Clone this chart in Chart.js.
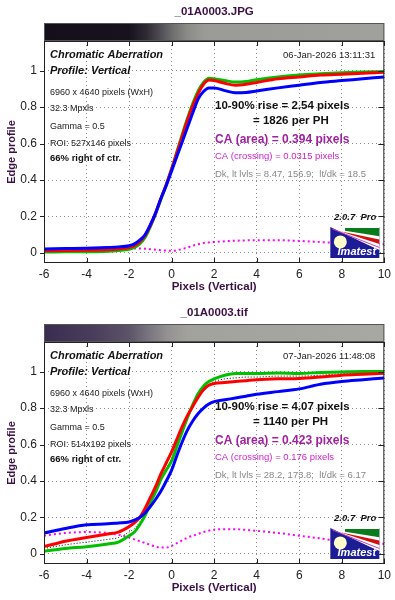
<!DOCTYPE html>
<html>
<head>
<meta charset="utf-8">
<script src="https://cdn.jsdelivr.net/npm/chart.js@4.4.0/dist/chart.umd.min.js"></script>
<style>
  body { margin: 0; background: #fff; }
  canvas { display: block; }
</style>
</head>
<body>
<canvas id="grafico1" width="395" height="300"></canvas>
<canvas id="grafico2" width="395" height="300" style="margin-top:1px"></canvas>
<script>
// eixo x comum (pixels) e ticks
const xVals = [-6, -5, -4, -3, -2.5, -2, -1.75, -1.5, -1.25, -1, -0.75, -0.5, -0.25, 0, 0.25, 0.5, 0.75, 1, 1.25, 1.5, 1.75, 2, 2.5, 3, 3.5, 4, 5, 6, 7, 8, 9, 10];
const xTicks = [-6, -4, -2, 0, 2, 4, 6, 8, 10];
const yTicks = [0, 0.2, 0.4, 0.6, 0.8, 1];
const yLabels = ['0', '0.2', '0.4', '0.6', '0.8', '1'];

// _01A0003.JPG
const jpgBlue = [0.022, 0.024, 0.026, 0.03, 0.033, 0.04, 0.05, 0.07, 0.1, 0.155, 0.22, 0.3, 0.37, 0.45, 0.53, 0.61, 0.69, 0.77, 0.845, 0.885, 0.905, 0.905, 0.89, 0.878, 0.88, 0.888, 0.905, 0.92, 0.935, 0.945, 0.955, 0.965];
const jpgRed = [0.012, 0.013, 0.015, 0.018, 0.022, 0.03, 0.04, 0.06, 0.095, 0.15, 0.22, 0.3, 0.375, 0.46, 0.55, 0.64, 0.73, 0.81, 0.875, 0.925, 0.948, 0.945, 0.93, 0.92, 0.925, 0.935, 0.955, 0.965, 0.975, 0.98, 0.985, 0.99];
const jpgGreen = [0.005, 0.006, 0.007, 0.01, 0.014, 0.02, 0.03, 0.05, 0.085, 0.145, 0.215, 0.295, 0.375, 0.46, 0.555, 0.65, 0.74, 0.82, 0.89, 0.935, 0.958, 0.955, 0.945, 0.937, 0.94, 0.95, 0.965, 0.975, 0.982, 0.988, 0.992, 0.995];
const jpgMagenta = [0.015, 0.015, 0.016, 0.018, 0.02, 0.025, 0.025, 0.024, 0.023, 0.02, 0.018, 0.015, 0.013, 0.012, 0.015, 0.022, 0.03, 0.04, 0.048, 0.055, 0.058, 0.06, 0.064, 0.067, 0.069, 0.07, 0.07, 0.066, 0.06, 0.054, 0.05, 0.047];

// _01A0003.tif
const tifBlue = [0.115, 0.14, 0.16, 0.165, 0.17, 0.175, 0.185, 0.2, 0.225, 0.26, 0.3, 0.345, 0.4, 0.46, 0.54, 0.615, 0.68, 0.73, 0.77, 0.8, 0.822, 0.835, 0.845, 0.855, 0.865, 0.875, 0.89, 0.905, 0.93, 0.945, 0.955, 0.965];
const tifRed = [0.04, 0.07, 0.09, 0.11, 0.12, 0.15, 0.17, 0.2, 0.25, 0.31, 0.37, 0.44, 0.5, 0.56, 0.63, 0.7, 0.76, 0.81, 0.86, 0.9, 0.925, 0.935, 0.94, 0.945, 0.95, 0.955, 0.96, 0.962, 0.97, 0.98, 0.985, 0.99];
const tifGreen = [0.015, 0.03, 0.04, 0.055, 0.065, 0.1, 0.12, 0.16, 0.21, 0.28, 0.34, 0.41, 0.46, 0.51, 0.59, 0.67, 0.75, 0.82, 0.88, 0.92, 0.945, 0.96, 0.98, 0.99, 0.99, 0.99, 0.992, 0.99, 0.995, 0.998, 1.0, 1.0];
const tifBlack = [0.03, 0.05, 0.065, 0.08, 0.09, 0.12, 0.14, 0.175, 0.225, 0.29, 0.35, 0.42, 0.47, 0.525, 0.6, 0.68, 0.75, 0.81, 0.865, 0.905, 0.93, 0.945, 0.96, 0.965, 0.97, 0.97, 0.975, 0.975, 0.98, 0.988, 0.99, 0.995];
const tifMagenta = [0.1, 0.115, 0.12, 0.115, 0.105, 0.09, 0.08, 0.07, 0.06, 0.05, 0.04, 0.035, 0.035, 0.045, 0.06, 0.075, 0.09, 0.1, 0.11, 0.12, 0.128, 0.133, 0.136, 0.136, 0.132, 0.127, 0.115, 0.1, 0.085, 0.068, 0.06, 0.055];

// textos
const jpgTexts = {
    titulo: '_01A0003.JPG',
    data: '06-Jan-2026 13:11:31',
    info: ['6960 x 4640 pixels (WxH)', '32.3 Mpxls', 'Gamma = 0.5', 'ROI: 527x146 pixels'],
    rise: ['10-90% rise = 2.54 pixels', '= 1826 per PH'],
    caArea: 'CA (area) = 0.394 pixels',
    caCross: 'CA (crossing) = 0.0315 pixels',
    dk: 'Dk, lt lvls = 8.47, 156.9;  lt/dk = 18.5'
};
const tifTexts = {
    titulo: '_01A0003.tif',
    data: '07-Jan-2026 11:48:08',
    info: ['6960 x 4640 pixels (WxH)', '32.3 Mpxls', 'Gamma = 0.5', 'ROI: 514x192 pixels'],
    rise: ['10-90% rise = 4.07 pixels', '= 1140 per PH'],
    caArea: 'CA (area) = 0.423 pixels',
    caCross: 'CA (crossing) = 0.176 pixels',
    dk: 'Dk, lt lvls = 28.2, 173.8;  lt/dk = 6.17'
};

const FONT = 'Liberation Sans, Arial, sans-serif';
const ROXO = '#3c0f46';

function pontos(arr) {
    return xVals.map((x, i) => ({ x: x, y: arr[i] }));
}

function linha(arr, cor, largura, dash) {
    return {
        data: pontos(arr),
        borderColor: cor,
        borderWidth: largura,
        borderDash: dash || [],
        pointRadius: 0,
        fill: false,
        cubicInterpolationMode: 'monotone'
    };
}

function txt(ctx, s, x, y, font, cor, align) {
    ctx.font = font;
    ctx.fillStyle = cor;
    ctx.textAlign = align || 'left';
    ctx.textBaseline = 'middle';
    ctx.fillText(s, x, y);
}

function desenharLogo(ctx, x, y, w, h) {
    ctx.save();
    ctx.fillStyle = '#1c1c96';
    ctx.fillRect(x, y, w, h);
    // parte branca superior
    ctx.fillStyle = '#ffffff';
    ctx.beginPath();
    ctx.moveTo(x, y); ctx.lineTo(x + w, y); ctx.lineTo(x + w, y + h * 0.75); ctx.closePath();
    ctx.fill();
    // faixa verde
    ctx.fillStyle = '#0a7a1a';
    ctx.beginPath();
    ctx.moveTo(x + w * 0.3, y + 1); ctx.lineTo(x + w, y + 1); ctx.lineTo(x + w, y + h * 0.3); ctx.lineTo(x + w * 0.3, y + h * 0.12); ctx.closePath();
    ctx.fill();
    // faixa vermelha
    ctx.fillStyle = '#d01010';
    ctx.beginPath();
    ctx.moveTo(x + w * 0.2, y + h * 0.14); ctx.lineTo(x + w, y + h * 0.4); ctx.lineTo(x + w, y + h * 0.55); ctx.closePath();
    ctx.fill();
    // linhas diagonais
    ctx.lineWidth = 1;
    ctx.strokeStyle = '#c040c0';
    ctx.beginPath(); ctx.moveTo(x + 2, y + 2); ctx.lineTo(x + w, y + h * 0.66); ctx.stroke();
    ctx.strokeStyle = '#1c1c96';
    ctx.beginPath(); ctx.moveTo(x + 1, y + 4); ctx.lineTo(x + w, y + h * 0.76); ctx.stroke();
    // circulo
    ctx.fillStyle = '#ffffcc';
    ctx.beginPath(); ctx.arc(x + 10, y + h * 0.48, 6.5, 0, Math.PI * 2); ctx.fill();
    ctx.restore();
    txt(ctx, 'Imatest', x + w / 2 + 2, y + h - 6, 'italic bold 11px ' + FONT, '#ffffff', 'center');
}

const painelPlugin = {
    id: 'painel',
    afterDraw(chart, args, o) {
        const ctx = chart.ctx, a = chart.chartArea;
        const t = o.textos;
        const w = a.right - a.left, h = a.bottom - a.top;
        ctx.save();
        // titulo
        txt(ctx, t.titulo, (a.left + a.right) / 2, a.top - 29, 'bold 11.5px ' + FONT, ROXO, 'center');
        // barra de gradiente (imagem da borda)
        const g = ctx.createLinearGradient(a.left, 0, a.right, 0);
        o.gradiente.forEach(s => g.addColorStop(s[0], s[1]));
        ctx.fillStyle = g;
        ctx.fillRect(a.left, a.top - 18, w, 18);
        ctx.strokeStyle = '#555';
        ctx.lineWidth = 1;
        ctx.strokeRect(a.left + 0.5, a.top - 17.5, w - 1, 17);
        // moldura
        ctx.strokeStyle = '#222';
        ctx.strokeRect(a.left + 0.5, a.top + 0.5, w - 1, h - 1);
        // ticks
        ctx.beginPath();
        yTicks.forEach(v => {
            const py = Math.round(chart.scales.y.getPixelForValue(v)) + 0.5;
            ctx.moveTo(a.left - 4, py); ctx.lineTo(a.left + 1, py);
            ctx.moveTo(a.right - 6, py); ctx.lineTo(a.right, py);
        });
        xTicks.forEach(v => {
            const px = Math.round(chart.scales.x.getPixelForValue(v)) + 0.5;
            ctx.moveTo(px, a.top); ctx.lineTo(px, a.top + 5);
            ctx.moveTo(px, a.bottom); ctx.lineTo(px, a.bottom - 5);
        });
        ctx.stroke();

        // textos de informacao
        const lx = a.left + 6;
        txt(ctx, 'Chromatic Aberration', lx, a.top + 14, 'italic bold 11px ' + FONT, '#111');
        txt(ctx, t.data, a.right - 9, a.top + 14, '9.5px ' + FONT, '#222', 'right');
        txt(ctx, 'Profile: Vertical', lx, a.top + 30, 'italic bold 11px ' + FONT, '#111');
        const ys = [52, 68, 86, 103];
        t.info.forEach((s, i) => txt(ctx, s, lx, a.top + ys[i], '9px ' + FONT, '#222'));
        txt(ctx, '66% right of ctr.', lx, a.top + 117, 'bold 9.5px ' + FONT, '#111');

        const rx = a.left + 171;
        txt(ctx, t.rise[0], rx, a.top + 65, 'bold 11.5px ' + FONT, '#111');
        txt(ctx, t.rise[1], a.left + 209, a.top + 80, 'bold 11.5px ' + FONT, '#111');
        txt(ctx, t.caArea, rx, a.top + 99, 'bold 12px ' + FONT, '#a020a0');
        txt(ctx, t.caCross, rx, a.top + 115, '9.5px ' + FONT, '#cc22cc');
        txt(ctx, t.dk, rx, a.top + 133, '9.5px ' + FONT, '#888');

        txt(ctx, '2.0.7  Pro', a.right - 8, a.bottom - 46, 'italic bold 9.5px ' + FONT, '#111', 'right');
        desenharLogo(ctx, a.right - 54, a.bottom - 36, 49, 31);
        ctx.restore();
    }
};

function criarGrafico(id, datasets, textos, gradiente) {
    new Chart(document.getElementById(id), {
        type: 'line',
        data: { datasets: datasets },
        options: {
            responsive: false,
            animation: false,
            layout: { padding: { top: 41, right: 8, left: 0, bottom: 0 } },
            plugins: {
                legend: { display: false },
                tooltip: { enabled: false },
                painel: { textos: textos, gradiente: gradiente }
            },
            scales: {
                x: {
                    type: 'linear',
                    min: -6,
                    max: 10,
                    afterBuildTicks: s => { s.ticks = xTicks.map(v => ({ value: v })); },
                    afterFit: s => { s.height = 37; },
                    ticks: { color: '#222', padding: 4, maxRotation: 0, font: { family: FONT, size: 12 } },
                    grid: { color: '#8a8a8a', lineWidth: 1, drawTicks: false },
                    border: { display: false, dash: [1, 3] },
                    title: {
                        display: true, text: 'Pixels (Vertical)', color: ROXO,
                        font: { family: FONT, size: 11.5, weight: 'bold' }, padding: { top: 0, bottom: 6 }
                    }
                },
                y: {
                    min: -0.055,
                    max: 1.162,
                    afterBuildTicks: s => { s.ticks = yTicks.map(v => ({ value: v })); },
                    afterFit: s => { s.width = 44; },
                    ticks: {
                        color: '#222', padding: 7, font: { family: FONT, size: 12 },
                        callback: (v, i) => yLabels[i]
                    },
                    grid: { color: '#8a8a8a', lineWidth: 1, drawTicks: false },
                    border: { display: false, dash: [1, 3] },
                    title: {
                        display: true, text: 'Edge profile', color: ROXO,
                        font: { family: FONT, size: 11, weight: 'bold' }, padding: { top: 5, bottom: 0 }
                    }
                }
            }
        },
        plugins: [painelPlugin]
    });
}

criarGrafico('grafico1', [
    linha(jpgBlue, '#0000ff', 3),
    linha(jpgRed, '#ff0000', 3),
    linha(jpgGreen, '#00c000', 3),
    linha(jpgMagenta, '#ff00ff', 2, [2, 3])
], jpgTexts, [[0, '#150f1c'], [0.25, '#18121e'], [0.3, '#2e2a34'], [0.34, '#4e4c52'], [0.38, '#707070'], [0.42, '#8a8a86'], [0.47, '#9a9a96'], [1, '#a0a09c']]);

criarGrafico('grafico2', [
    linha(tifBlue, '#0000ff', 3),
    linha(tifRed, '#ff0000', 3),
    linha(tifGreen, '#00c000', 3),
    linha(tifBlack, '#000000', 1, [1, 2]),
    linha(tifMagenta, '#ff00ff', 2, [2, 3])
], tifTexts, [[0, '#3a2c50'], [0.15, '#4a3e5c'], [0.25, '#5c5468'], [0.31, '#7a7680'], [0.36, '#929090'], [0.42, '#a2a29c'], [1, '#a8a8a2']]);
</script>
</body>
</html>
